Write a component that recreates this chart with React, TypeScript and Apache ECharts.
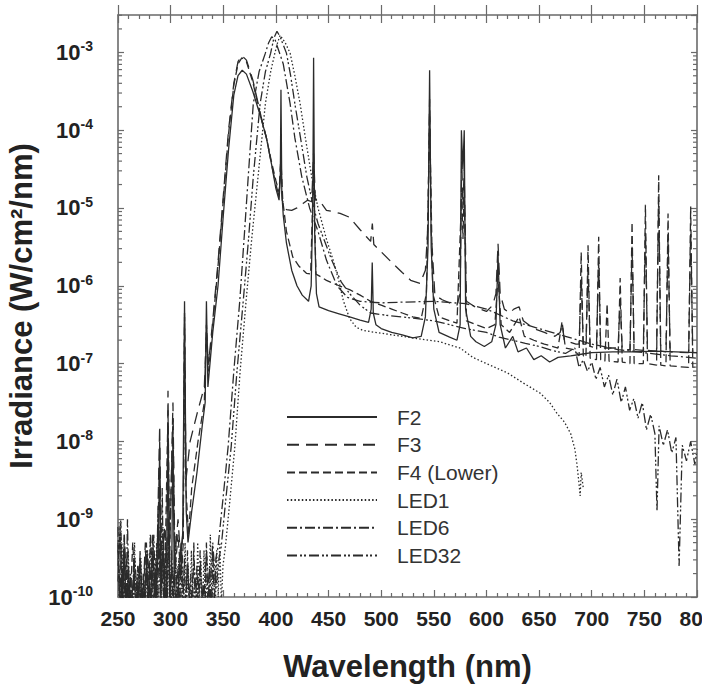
import React, { useEffect, useRef } from "react";
import * as echarts from "echarts";

// Values are log10 of irradiance (W/cm²/nm), paired with wavelength (nm)
const SERIES_NAMES = ["F2", "F3", "F4 (Lower)", "LED1", "LED6", "LED32"];
const X_MIN = 250;
const X_MAX = 800;
const X_STEP = 50;
const Y_MIN = -10;
const Y_MAX = -2.52;

const F2: [number, number][] = [
  [250,-9.8],[252,-9.1],[254,-10.2],[256,-9.4],[258,-10.3],[260,-9.6],[262,-10.2],[265,-9.7],[268,-10.3],[271,-9.5],
  [274,-10.2],[277,-9.6],[280,-10.3],[283,-9.4],[286,-10.1],[288.5,-9.3],[289.6,-8.0],[290.7,-9.9],[293,-9.4],[296,-10.2],
  [297.5,-7.8],[299,-10.0],[301,-9.7],[302.2,-7.9],[303.5,-9.8],[306,-10.2],[309,-9.5],[311.5,-9.2],[313.2,-6.2],[314.8,-8.9],
  [316.5,-9.3],[320,-8.9],[325,-8.4],[330,-7.8],[332.8,-7.5],[334,-6.2],[335.4,-7.3],[340,-6.6],[345,-6.0],[350,-5.1],
  [355,-4.25],[360,-3.55],[364,-3.3],[368,-3.23],[372,-3.28],[378,-3.5],[386,-3.85],[391,-4.1],[396,-4.45],[400,-4.75],
  [403,-4.9],[404.2,-4.6],[404.8,-3.48],[405.6,-4.8],[407,-5.1],[410,-5.45],[415,-5.8],[420,-6.0],[425,-6.12],[431,-6.2],
  [433.5,-6.0],[435,-5.0],[435.8,-3.07],[436.8,-5.3],[438.5,-6.1],[441,-6.27],[450,-6.32],[460,-6.36],[470,-6.4],[480,-6.44],
  [488,-6.47],[490.5,-6.3],[491.5,-5.7],[492.5,-6.35],[495,-6.5],[500,-6.55],[510,-6.6],[520,-6.63],[530,-6.67],[538,-6.65],
  [542,-6.4],[544.5,-5.5],[546,-3.23],[547.5,-5.5],[550,-6.3],[555,-6.6],[565,-6.66],[572,-6.7],[575,-6.5],[576.2,-4.0],
  [577.6,-4.5],[578.9,-4.0],[580.2,-6.3],[585,-6.65],[590,-6.72],[598,-6.78],[605,-6.72],[609,-6.5],[611,-5.6],[613,-6.5],
  [618,-6.8],[625,-6.65],[630,-6.85],[638,-6.8],[645,-6.95],[652,-6.9],[660,-6.98],[668,-6.92],[680,-6.9],[690,-6.88],
  [700,-6.86],[720,-6.85],[740,-6.85],[760,-6.84],[780,-6.85],[800,-6.86],
];

const F3: [number, number][] = [
  [250,-9.4],[253,-10.2],[256,-9.2],[259,-10.1],[262,-9.8],[266,-10.3],[269,-9.6],[273,-10.2],[276,-9.3],[279,-10.1],
  [282,-9.5],[285,-10.2],[287.5,-9.2],[289.6,-7.8],[291,-9.8],[294,-9.1],[296.3,-9.5],[297.5,-7.35],[298.8,-9.6],[302.2,-7.5],
  [304,-9.5],[307,-9.0],[310,-9.6],[312,-9.0],[313.2,-6.35],[314.5,-8.5],[318.5,-8.0],[325,-7.65],[332,-7.3],[334,-6.6],
  [336,-7.0],[340,-6.45],[345,-5.7],[350,-4.85],[355,-4.0],[360,-3.4],[364,-3.12],[367.6,-3.04],[372,-3.1],[378,-3.35],
  [386,-3.83],[391,-4.1],[396,-4.45],[400,-4.7],[403,-4.85],[404.7,-4.4],[406,-4.9],[410,-5.02],[415,-5.03],[420,-5.0],
  [426,-4.94],[430,-4.9],[434,-4.92],[435.8,-4.3],[437.5,-4.9],[441,-4.9],[448,-5.03],[455,-5.05],[461,-5.07],[470,-5.12],
  [480,-5.28],[486,-5.37],[490,-5.43],[491.6,-5.2],[493,-5.47],[499,-5.55],[510,-5.7],[520,-5.83],[528,-5.93],[537,-5.97],
  [542,-5.8],[544.5,-5.2],[546,-3.6],[547.5,-5.3],[551,-6.12],[558,-6.18],[565,-6.22],[572,-6.25],[575,-6.1],[576.5,-4.4],
  [577.7,-5.0],[578.8,-4.5],[581,-6.2],[590,-6.28],[600,-6.33],[606,-6.25],[609,-6.1],[611,-5.46],[613,-6.1],[617,-6.3],
  [622,-6.35],[626,-6.3],[631,-6.27],[635,-6.45],[645,-6.55],[655,-6.6],[665,-6.65],[670,-6.6],[672,-6.5],[674,-6.7],
  [685,-6.75],[688,-6.75],[690,-5.9],[692,-6.75],[694.5,-6.75],[696.5,-5.8],[698.5,-6.78],[704.5,-6.8],[706.6,-5.7],[708.5,-6.8],
  [725,-6.8],[727,-6.2],[729,-6.82],[736.3,-6.82],[738.3,-5.5],[740.3,-6.82],[749,-6.83],[751,-5.3],[753,-6.83],[761.6,-6.84],
  [763.6,-4.9],[765.6,-6.84],[770.5,-6.85],[772.5,-5.4],[774.5,-6.85],[792,-6.86],[794,-5.3],[796,-6.86],[800,-6.86],
];

const F4: [number, number][] = [
  [250,-9.6],[252.5,-9.0],[255,-10.1],[258,-9.5],[261,-10.3],[264,-9.3],[267,-10.1],[270,-9.7],[273,-10.3],[276,-9.4],
  [279,-9.9],[281,-9.2],[284,-10.2],[287,-9.5],[289.6,-8.3],[291,-9.6],[294,-10.1],[297.5,-7.6],[299,-9.4],[302.2,-7.7],
  [304,-9.7],[307,-9.2],[310,-9.8],[312,-9.3],[313.2,-6.4],[314.5,-8.6],[317,-9.2],[320,-8.6],[326,-8.0],[332,-7.5],
  [334,-6.5],[336,-7.1],[340,-6.5],[345,-5.75],[350,-4.9],[355,-4.05],[360,-3.42],[364,-3.15],[367.6,-3.07],[372,-3.12],
  [378,-3.38],[386,-3.85],[391,-4.1],[396,-4.42],[400,-4.65],[403,-4.8],[404.7,-4.35],[406.5,-4.9],[410,-5.3],[416,-5.63],
  [422,-5.75],[429,-5.84],[433,-5.85],[435.8,-4.5],[438,-5.85],[442,-5.88],[448,-5.93],[460,-6.0],[470,-6.05],[480,-6.12],
  [490,-6.2],[500,-6.25],[510,-6.3],[520,-6.35],[530,-6.4],[538,-6.42],[543,-6.1],[546,-3.8],[549,-6.1],[555,-6.4],
  [565,-6.45],[572,-6.48],[576.5,-4.8],[577.7,-5.4],[578.8,-4.7],[581,-6.45],[590,-6.5],[600,-6.55],[608,-6.5],[611,-5.9],
  [614,-6.5],[622,-6.6],[631,-6.4],[636,-6.65],[645,-6.7],[655,-6.75],[668,-6.8],[671.8,-6.46],[675,-6.8],[683,-6.82],
  [688,-6.9],[690,-5.57],[692,-6.9],[694.5,-6.92],[696.5,-5.48],[698.5,-6.93],[704.5,-6.95],[706.6,-5.37],[708.5,-6.95],[712.5,-6.97],
  [714.6,-6.23],[716.5,-6.97],[725,-6.98],[727,-5.9],[729,-6.98],[736.3,-7.0],[738.3,-5.18],[740.3,-7.0],[749,-7.0],[751,-4.96],
  [753,-7.0],[761.6,-7.02],[763.6,-4.58],[765.6,-7.02],[770.5,-7.03],[772.5,-5.07],[774.5,-7.03],[792,-7.05],[794,-4.98],[796,-7.05],
  [800,-7.05],
];

const LED1: [number, number][] = [
  [250.7,-9.6],[252.2,-10.3],[253.7,-9.3],[255.2,-10.2],[256.7,-9.8],[258.2,-10.3],[259.7,-9.4],[261.2,-10.1],[262.7,-9.9],[264.2,-10.3],
  [265.7,-9.3],[267.2,-10.2],[268.7,-9.6],[270.2,-10.3],[271.7,-9.5],[273.2,-10.1],[274.7,-9.8],[276.2,-10.3],[277.7,-9.4],[279.2,-10.2],
  [280.7,-9.2],[282.2,-10.3],[283.7,-9.6],[285.2,-10.1],[286.7,-9.3],[288.2,-10.3],[289.7,-9.5],[291.2,-10.2],[292.7,-9.1],[294.2,-10.3],
  [295.7,-9.4],[297.2,-10.0],[298.7,-9.2],[300.2,-10.3],[301.7,-9.6],[303.2,-10.1],[304.7,-9.3],[306.2,-10.3],[307.7,-9.5],[309.2,-10.2],
  [310.7,-9.7],[312.2,-10.3],[313.7,-9.3],[315.2,-10.1],[316.7,-9.6],[318.2,-10.3],[319.7,-9.4],[321.2,-10.2],[322.7,-9.8],[324.2,-10.3],
  [325.7,-9.3],[327.2,-10.1],[328.7,-9.5],[330.2,-10.3],[331.7,-9.4],[333.2,-10.2],[334.7,-9.7],[336.2,-10.3],[337.7,-9.2],[339.2,-10.1],
  [340.7,-9.5],[342.2,-10.3],[343.7,-9.4],[345.2,-10.0],[346.7,-9.3],[348.2,-10.1],[349.7,-9.6],[352,-9.36],[356,-8.8],[361,-8.07],
  [366,-7.1],[371.7,-6.19],[377,-5.4],[383,-4.6],[390,-3.66],[395,-3.25],[399,-3.01],[401.5,-2.88],[404,-2.78],[409,-2.88],
  [413.5,-3.01],[418,-3.3],[423,-3.66],[428,-4.1],[434,-4.6],[440,-5.0],[448,-5.4],[455,-5.7],[460,-5.95],[464,-6.19],
  [470,-6.42],[476,-6.53],[482,-6.57],[490,-6.59],[500,-6.61],[515,-6.64],[530,-6.67],[545,-6.7],[556,-6.72],[565,-6.76],
  [575,-6.8],[587,-6.92],[600,-7.0],[610,-7.06],[620,-7.12],[635,-7.25],[651,-7.38],[660,-7.5],[667,-7.64],[674,-7.75],
  [680,-7.9],[684,-8.1],[686,-8.3],[688,-8.55],[689,-8.7],[690,-8.4],[692,-8.6],
];

const LED6: [number, number][] = [
  [250,-9.1],[251.5,-10.3],[253,-9.4],[254.5,-10.1],[256,-9.2],[257.5,-10.3],[259,-9.0],[260.5,-10.2],[262,-9.7],[263.5,-10.3],
  [265,-9.5],[266.5,-10.2],[268,-9.8],[269.5,-10.3],[271,-9.4],[272.5,-10.1],[274,-9.7],[275.5,-10.3],[277,-9.3],[278.5,-10.2],
  [280,-9.6],[281.5,-10.3],[283,-9.2],[284.5,-10.0],[286,-9.5],[287.5,-10.3],[289,-9.1],[290.5,-10.2],[292,-8.6],[293.5,-10.1],
  [295,-9.3],[296.5,-10.3],[298,-9.0],[299.5,-10.2],[301,-9.4],[302.5,-10.3],[304,-9.2],[305.5,-10.1],[307,-9.6],[308.5,-10.3],
  [310,-9.3],[311.5,-10.2],[313,-9.5],[314.5,-10.3],[316,-9.4],[317.5,-10.1],[319,-9.7],[320.5,-10.3],[322,-9.3],[323.5,-10.2],
  [325,-9.6],[326.5,-10.3],[328,-9.4],[329.5,-10.1],[331,-9.8],[332.5,-10.3],[334,-9.3],[335.5,-10.2],[337,-9.6],[338.5,-10.3],
  [340,-9.4],[341.5,-10.1],[343,-9.5],[345,-9.36],[350,-8.7],[354.6,-8.07],[360,-7.1],[365.7,-6.19],[370,-5.35],[373.7,-4.6],
  [378.5,-3.66],[384,-3.25],[390,-3.01],[393,-2.88],[396,-2.8],[399,-2.83],[402,-2.95],[407,-3.15],[413.5,-3.66],[418,-4.1],
  [424.6,-4.6],[432,-5.0],[440,-5.3],[448,-5.67],[458,-6.0],[468,-6.15],[480,-6.2],[500,-6.22],[520,-6.21],[550,-6.2],
  [580,-6.23],[600,-6.3],[625,-6.45],[650,-6.55],[675,-6.65],[700,-6.75],[725,-6.82],[750,-6.86],[775,-6.9],[800,-6.93],
];

const LED32: [number, number][] = [
  [250,-9.3],[252.5,-10.3],[255,-9.6],[257.5,-10.1],[260,-9.8],[263,-10.3],[266,-9.5],[269,-10.2],[272,-9.9],[275,-10.3],
  [278,-9.4],[281,-10.1],[284,-9.2],[286,-10.2],[288,-9.0],[291,-10.0],[293,-9.3],[295,-10.3],[298,-9.1],[301,-10.2],
  [304,-9.5],[307,-10.0],[310,-9.3],[313,-10.2],[316,-9.6],[319,-10.3],[322,-9.5],[325,-10.1],[328,-9.6],[331,-10.2],
  [334,-9.4],[337,-10.0],[340,-9.3],[343,-9.9],[346,-9.5],[348,-9.36],[352,-8.8],[357.5,-8.07],[363,-7.1],[369,-6.19],
  [374,-5.4],[378.5,-4.6],[385,-3.66],[390,-3.25],[395,-3.01],[398,-2.82],[401,-2.73],[404,-2.8],[410,-3.01],[414,-3.3],
  [418,-3.66],[424,-4.15],[429.4,-4.6],[435,-4.95],[440,-5.2],[453,-5.67],[462,-5.95],[470,-6.1],[480,-6.25],[490,-6.35],
  [505,-6.38],[520,-6.4],[550,-6.45],[580,-6.55],[600,-6.6],[612,-6.66],[625,-6.7],[637,-6.74],[650,-6.78],[662,-6.83],
  [675,-6.87],[684,-6.8],[688,-7.05],[692,-6.95],[696,-7.1],[700,-6.98],[704,-7.2],[708,-7.05],[712,-7.3],[716,-7.15],
  [720,-7.4],[724,-7.2],[728,-7.5],[732,-7.3],[736,-7.6],[740,-7.45],[744,-7.7],[748,-7.5],[752,-7.85],[756,-7.65],
  [760,-7.9],[762,-8.9],[764,-7.8],[768,-8.05],[772,-7.85],[776,-8.15],[780,-7.95],[783,-9.6],[786,-8.05],[790,-8.25],
  [794,-8.0],[798,-8.3],[800,-8.1],
];

const SERIES_DATA = [F2, F3, F4, LED1, LED6, LED32];
const SERIES_DASH: (string | number[])[] = [
  "solid",
  [12, 7],
  [8, 4],
  [1.5, 2.2],
  [10, 3, 2, 3],
  [10, 3, 2, 2, 2, 3],
];

const FONT = "'Liberation Sans', Arial, Helvetica, sans-serif";
const AXIS_COLOR = "#6a6a6a";
const LINE_COLOR = "#2b2b2b";

export default function App() {
  const ref = useRef<HTMLDivElement>(null);

  useEffect(() => {
    if (!ref.current) return;
    const chart = echarts.init(ref.current, undefined, { renderer: "svg" });

    // log-spaced minor tick positions (k × 10^n) on the exponent axis
    const minor: number[] = [];
    for (let n = Y_MIN; n < Math.ceil(Y_MAX); n++) {
      for (let k = 2; k <= 9; k++) {
        const v = n + Math.log10(k);
        if (v < Y_MAX) minor.push(v);
      }
    }

    const axisLine = { show: true, lineStyle: { color: AXIS_COLOR, width: 1.6 } };
    const tickStyle = { color: AXIS_COLOR, width: 1.2 };

    const lineSeries = SERIES_NAMES.map((name, i) => ({
      type: "line",
      name,
      data: SERIES_DATA[i],
      showSymbol: false,
      symbol: "none",
      clip: true,
      z: 3,
      lineStyle: { color: LINE_COLOR, width: 1.3, type: SERIES_DASH[i] },
      itemStyle: { color: LINE_COLOR },
    }));

    const option: any = {
      animation: false,
      backgroundColor: "#fff",
      grid: { left: 118, right: 5, top: 15, bottom: 87, containLabel: false, outerBoundsMode: "none" },
      legend: {
        data: SERIES_NAMES,
        orient: "vertical",
        left: 281,
        top: 401,
        itemWidth: 90,
        itemHeight: 14,
        itemGap: 5.7,
        itemStyle: { opacity: 0 },
        textStyle: {
          fontSize: 21,
          color: "#333",
          fontFamily: FONT,
          lineHeight: 22,
          padding: [0, 0, 0, 15],
        },
      },
      xAxis: [
        {
          type: "value",
          min: X_MIN,
          max: X_MAX,
          interval: X_STEP,
          position: "bottom",
          axisLine,
          axisTick: { inside: true, length: 7, lineStyle: tickStyle },
          minorTick: { show: true, splitNumber: 5, length: 4, lineStyle: tickStyle },
          splitLine: { show: false },
          axisLabel: {
            fontSize: 21,
            fontWeight: "bold",
            color: "#222",
            margin: 11,
            fontFamily: FONT,
          },
          name: "Wavelength (nm)",
          nameLocation: "middle",
          nameGap: 54,
          nameTextStyle: { fontSize: 31, fontWeight: "bold", color: "#222", fontFamily: FONT },
        },
        {
          type: "value",
          min: X_MIN,
          max: X_MAX,
          interval: X_STEP,
          position: "top",
          axisLine,
          axisTick: { inside: true, length: 8, lineStyle: tickStyle },
          minorTick: { show: true, splitNumber: 5, length: 4, lineStyle: tickStyle },
          splitLine: { show: false },
          axisLabel: { show: false },
        },
        {
          // second position "top" is flipped by the grid to the bottom: outward major ticks
          type: "value",
          min: X_MIN,
          max: X_MAX,
          interval: X_STEP,
          position: "top",
          axisLine: { show: false },
          axisTick: { inside: false, length: 10, lineStyle: tickStyle },
          splitLine: { show: false },
          axisLabel: { show: false },
        },
      ],
      yAxis: [
        {
          type: "value",
          min: Y_MIN,
          max: Y_MAX,
          interval: 1,
          position: "left",
          axisLine,
          axisTick: { inside: true, length: 6, lineStyle: tickStyle },
          splitLine: { show: false },
          axisLabel: {
            showMaxLabel: false,
            margin: 25,
            formatter: (v: number) => (Number.isInteger(v) ? `{a|10}{b|${v}}` : ""),
            rich: {
              a: { fontSize: 22, fontWeight: "bold", color: "#222", fontFamily: FONT, lineHeight: 26 },
              b: {
                fontSize: 14,
                fontWeight: "bold",
                color: "#222",
                fontFamily: FONT,
                verticalAlign: "top",
                lineHeight: 14,
              },
            },
          },
          name: "Irradiance (W/cm²/nm)",
          nameLocation: "middle",
          nameGap: 78,
          nameTextStyle: { fontSize: 31, fontWeight: "bold", color: "#222", fontFamily: FONT },
        },
        {
          type: "value",
          min: Y_MIN,
          max: Y_MAX,
          interval: 1,
          position: "right",
          axisLine,
          axisTick: { inside: true, length: 6, lineStyle: tickStyle },
          splitLine: { show: false },
          axisLabel: { show: false },
        },
      ],
      series: [
        ...lineSeries,
        {
          type: "custom",
          name: "minorTicks",
          silent: true,
          xAxisIndex: 0,
          yAxisIndex: 0,
          z: 5,
          data: minor.map((v) => [X_MIN, v]),
          renderItem: (_params: any, api: any) => {
            const v = api.value(1);
            const pl = api.coord([X_MIN, v]);
            const pr = api.coord([X_MAX, v]);
            return {
              type: "group",
              children: [
                { type: "line", shape: { x1: pl[0], y1: pl[1], x2: pl[0] + 4, y2: pl[1] }, style: { stroke: AXIS_COLOR, lineWidth: 1.2 } },
                { type: "line", shape: { x1: pr[0] - 4, y1: pr[1], x2: pr[0], y2: pr[1] }, style: { stroke: AXIS_COLOR, lineWidth: 1.2 } },
              ],
            };
          },
        },
      ],
    };

    chart.setOption(option);
    return () => chart.dispose();
  }, []);

  return (
    <div
      ref={ref}
      style={{ position: "fixed", left: 0, top: 0, width: 702, height: 684, background: "#fff" }}
    />
  );
}
